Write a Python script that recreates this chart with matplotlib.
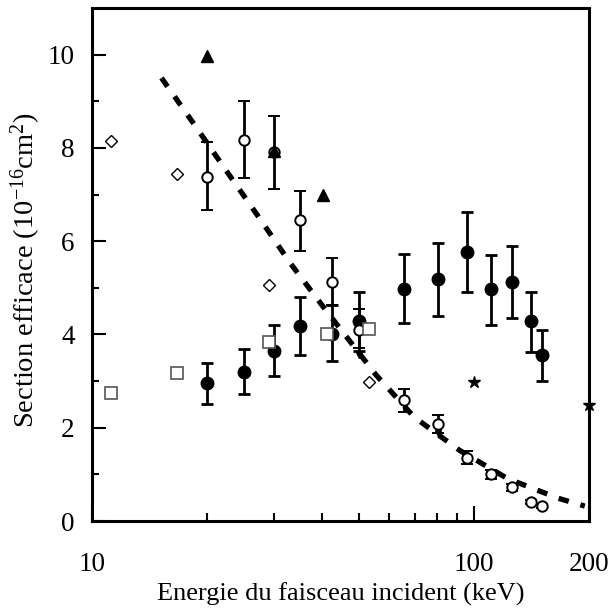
import matplotlib
matplotlib.use("Agg")
import matplotlib.pyplot as plt
from matplotlib.ticker import FixedLocator, NullFormatter, FixedFormatter

plt.rcParams['font.family'] = ['Liberation Serif', 'DejaVu Serif']
plt.rcParams['mathtext.fontset'] = 'custom'
plt.rcParams['mathtext.rm'] = 'Liberation Serif'
plt.rcParams['mathtext.it'] = 'Liberation Serif:italic'
plt.rcParams['mathtext.default'] = 'rm'

# Filled circles with error bars
x_fc = [20, 25, 30, 35, 42.5, 50, 65.5, 80.5, 96, 111, 126, 141, 151]
y_fc = [2.95, 3.2, 3.64, 4.18, 4.0, 4.28, 4.98, 5.19, 5.76, 4.97, 5.13, 4.28, 3.55]
lo_fc = [2.5, 2.72, 3.1, 3.55, 3.43, 3.65, 4.25, 4.4, 4.9, 4.2, 4.35, 3.63, 3.0]
hi_fc = [3.39, 3.68, 4.2, 4.8, 4.63, 4.91, 5.73, 5.96, 6.63, 5.7, 5.9, 4.92, 4.1]

# Open circles with error bars
x_oc = [20, 25, 30, 35, 42.5, 50, 65.5, 80.5, 96, 111, 126, 141, 151]
y_oc = [7.37, 8.18, 7.91, 6.45, 5.12, 4.1, 2.6, 2.09, 1.36, 1.0, 0.73, 0.41, 0.32]
lo_oc = [6.66, 7.36, 7.11, 5.8, 4.63, 3.7, 2.33, 1.88, 1.22, 0.9, 0.65, 0.36, 0.27]
hi_oc = [8.12, 9.0, 8.69, 7.07, 5.65, 4.54, 2.83, 2.28, 1.5, 1.1, 0.8, 0.46, 0.37]

# Filled triangles
x_tri = [20, 30, 40.2]
y_tri = [9.98, 7.94, 7.0]

# Small down triangles
x_dtri = [50, 80.5]
y_dtri = [3.57, 1.88]

# Open squares
x_sq = [11.2, 16.7, 29.1, 41.3, 53.1]
y_sq = [2.75, 3.18, 3.83, 4.02, 4.11]

# Open diamonds
x_dia = [11.2, 16.7, 29.1, 53.0]
y_dia = [8.14, 7.43, 5.05, 2.98]

# Stars
x_star = [100, 200]
y_star = [2.98, 2.48]

# Dashed theoretical curve
x_cur = [15.2, 18.6, 22.6, 27.3, 33.1, 40.5, 55.3, 69.7, 91.5, 122.4, 166, 195]
y_cur = [9.5, 8.48, 7.48, 6.52, 5.52, 4.57, 3.14, 2.23, 1.52, 0.91, 0.49, 0.32]

xticks_major = [10, 100, 200]
xtick_labels = ['10', '100', '200']
yticks_major = [0, 2, 4, 6, 8, 10]

fig = plt.figure(figsize=(6.11, 6.13), dpi=100)
ax = fig.add_axes([0.1506, 0.150, 0.8134, 0.837])
ax.set_xscale('log')
ax.set_xlim(10, 200)
ax.set_ylim(0, 11)

ax.plot(x_cur, y_cur, color='black', lw=3.8, dashes=(2.0, 2.3), zorder=2)

def err(y, lo, hi):
    return [[a - b for a, b in zip(y, lo)], [c - a for a, c in zip(y, hi)]]

ax.errorbar(x_fc, y_fc, yerr=err(y_fc, lo_fc, hi_fc), fmt='o', color='black',
            ms=9, elinewidth=2, capsize=4.5, capthick=2, zorder=3)
ax.errorbar(x_oc, y_oc, yerr=err(y_oc, lo_oc, hi_oc), fmt='o', mfc='white',
            mec='black', mew=1.4, color='black', ms=7.5, elinewidth=2,
            capsize=4.5, capthick=2, zorder=4)
ax.plot(x_tri, y_tri, '^', color='black', ms=9, ls='none', zorder=5)
ax.plot(x_dtri, y_dtri, 'v', color='black', ms=5, ls='none', zorder=5)
ax.plot(x_sq, y_sq, 's', mfc='white', mec='#555555', mew=1.2, ms=9, ls='none', zorder=5)
ax.plot(x_dia, y_dia, 'D', mfc='white', mec='black', mew=1.0, ms=6.5, ls='none', zorder=5)
ax.plot(x_star, y_star, '*', color='black', ms=9, ls='none', zorder=6, clip_on=False)

ax.xaxis.set_major_locator(FixedLocator(xticks_major))
ax.xaxis.set_major_formatter(FixedFormatter(xtick_labels))
ax.xaxis.set_minor_locator(FixedLocator([20, 30, 40, 50, 60, 70, 80, 90]))
ax.xaxis.set_minor_formatter(NullFormatter())
ax.yaxis.set_major_locator(FixedLocator(yticks_major))
ax.yaxis.set_minor_locator(FixedLocator([1, 3, 5, 7, 9]))

ax.tick_params(which='both', direction='in', top=False, right=False,
               labelsize=19.5, width=1.5, colors='black')
ax.tick_params(axis='x', which='major', length=11, pad=22.5)
ax.tick_params(axis='x', which='minor', length=6)
ax.tick_params(axis='y', which='major', length=10, pad=12.5)
ax.tick_params(axis='y', which='minor', length=5)

for s in ax.spines.values():
    s.set_linewidth(2.2)

ax.set_xlabel('Energie du faisceau incident (keV)', fontsize=19)
ax.set_ylabel('Section efficace (10$^{-16}$cm$^{2}$)', fontsize=20.5)
ax.xaxis.set_label_coords(0.5, -0.119)
ax.yaxis.set_label_coords(-0.099, 0.489)

fig.savefig('out.png', dpi=100)
